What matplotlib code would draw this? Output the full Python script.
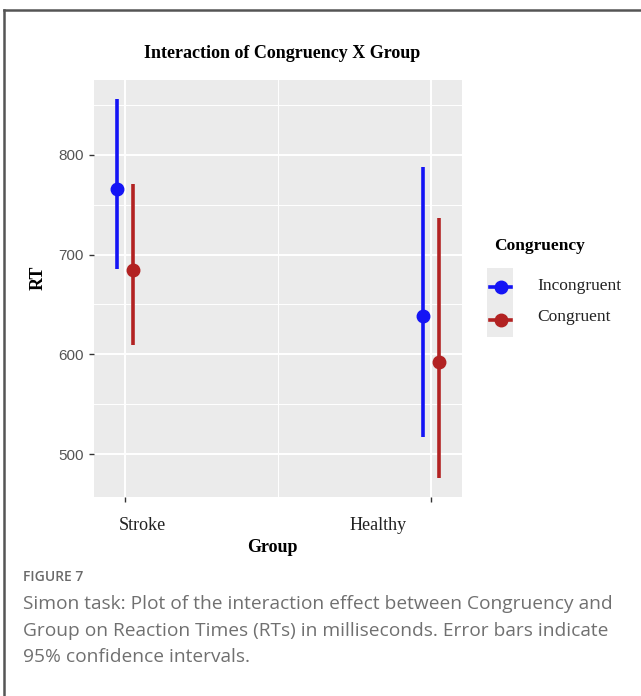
import matplotlib.pyplot as plt
import numpy as np
from matplotlib.lines import Line2D
from matplotlib.patches import Rectangle

# Estimated marginal means of RT with 95% CI, per group and congruency
groups = ['Stroke', 'Healthy']
conditions = ['Incongruent', 'Congruent']
colors = ['#1414f5', '#b22222']
rt_mean = {'Incongruent': [766, 638], 'Congruent': [685, 592]}
rt_lower = {'Incongruent': [686, 517], 'Congruent': [609, 476]}
rt_upper = {'Incongruent': [856, 788], 'Congruent': [771, 737]}
yticks = [500, 600, 700, 800]

W, H = 641, 696
fig = plt.figure(figsize=(W / 100, H / 100), dpi=100)

def fx(px):
    return px / W

def fy(py):
    return 1 - py / H

serif = 'Liberation Serif'
sans = 'Liberation Sans'

ax = fig.add_axes([fx(94), fy(497), fx(462) - fx(94), fy(80) - fy(497)])
ax.set_facecolor('#ebebeb')
for sp in ax.spines.values():
    sp.set_visible(False)

# ggplot-style grid
for v in yticks:
    ax.axhline(v, color='white', lw=1.4, zorder=0)
for v in [550, 650, 750, 850]:
    ax.axhline(v, color='white', lw=0.7, zorder=0)
for v in [1, 2]:
    ax.axvline(v, color='white', lw=1.4, zorder=0)
ax.axvline(1.5, color='white', lw=0.7, zorder=0)

xpos = np.arange(1, len(groups) + 1)
dodge = 0.026
for i, cond in enumerate(conditions):
    x = xpos + (-dodge if i == 0 else dodge)
    m = np.array(rt_mean[cond])
    lo = np.array(rt_lower[cond])
    hi = np.array(rt_upper[cond])
    ax.errorbar(x, m, yerr=[m - lo, hi - m], fmt='o', color=colors[i],
                ms=9, elinewidth=2.6, capsize=0, zorder=3)

ax.set_xlim(0.9, 2.1)
ax.set_ylim(457, 875)
ax.set_yticks(yticks)
ax.set_xticks(xpos)
ax.set_xticklabels([])
ax.set_yticklabels([str(v) for v in yticks], fontfamily=sans, fontsize=11, color='#555555')
ax.tick_params(axis='both', length=3.5, width=1, color='#333333', pad=4)

# group labels sit a little off their ticks
for name, px in zip(groups, [142, 378]):
    fig.text(fx(px), fy(525), name, fontfamily=serif, fontsize=13, color='#222222',
             ha='center', va='center')
fig.text(fx(272), fy(547), 'Group', fontfamily=serif, fontweight='bold',
         fontsize=13, ha='center', va='center')
fig.text(fx(38), fy(278), 'RT', fontfamily=serif, fontweight='bold', fontsize=13,
         rotation=90, ha='center', va='center')

fig.text(fx(282), fy(54), 'Interaction of Congruency X Group', fontfamily=serif,
         fontweight='bold', fontsize=13, ha='center', va='center')

# legend
fig.text(fx(494), fy(246), 'Congruency', fontfamily=serif, fontweight='bold',
         fontsize=12.5, ha='left', va='center')
fig.patches.append(Rectangle((fx(487), fy(337)), fx(513) - fx(487), fy(268) - fy(337),
                             transform=fig.transFigure, facecolor='#ebebeb',
                             edgecolor='none'))
for cond, col, key_y, txt_y in zip(conditions, colors, [287, 320], [286, 317]):
    yy = fy(key_y)
    fig.add_artist(Line2D([fx(490), fx(511)], [yy, yy], color=col, lw=2.6,
                          transform=fig.transFigure))
    fig.add_artist(Line2D([fx(500.5)], [yy], color=col, marker='o', ms=9,
                          transform=fig.transFigure))
    fig.text(fx(537), fy(txt_y), cond, fontfamily=serif, fontsize=12.5,
             ha='left', va='center', color='#222222')

# caption
fig.text(fx(23), fy(577), 'FIGURE 7', fontfamily='Open Sans', fontsize=10,
         fontweight='semibold', color='#6a6a6a', ha='left', va='center')
caption = ['Simon task: Plot of the interaction effect between Congruency and',
           'Group on Reaction Times (RTs) in milliseconds. Error bars indicate',
           '95% confidence intervals.']
for k, line in enumerate(caption):
    fig.text(fx(23), fy(604 + 26.7 * k), line, fontfamily='Open Sans', fontsize=13.8,
             color='#707070', ha='left', va='center')

# outer frame
fig.add_artist(Line2D([fx(4), 1], [fy(10), fy(10)], color='#555555', lw=1.8,
                      transform=fig.transFigure))
fig.add_artist(Line2D([fx(4), fx(4)], [0, fy(10)], color='#555555', lw=1.8,
                      transform=fig.transFigure))

fig.savefig('out.png', dpi=100)
